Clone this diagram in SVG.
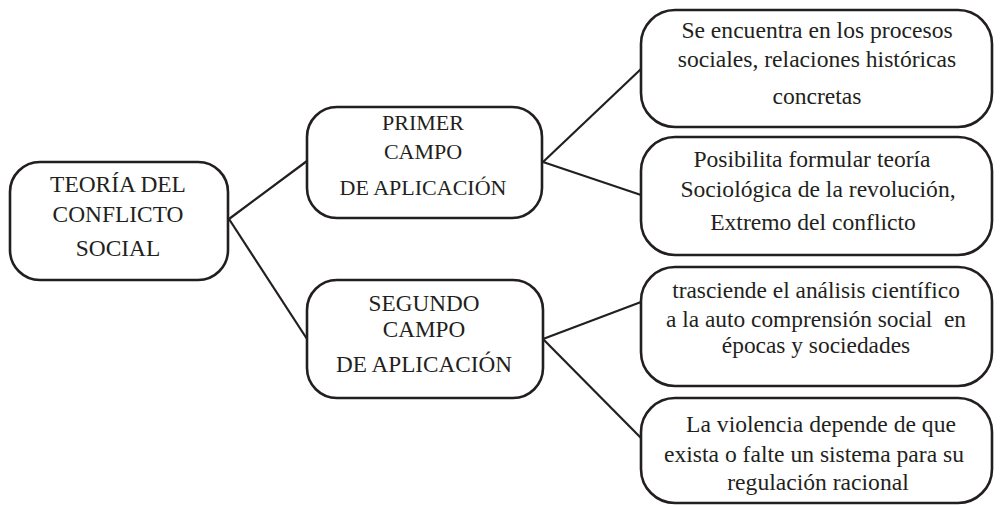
<svg xmlns="http://www.w3.org/2000/svg" width="1000" height="505" viewBox="0 0 1000 505">
<style>
.box{fill:#fff;stroke:#231f20;stroke-width:2.6}
.c{stroke:#231f20;stroke-width:2.2;fill:none}
text{font-family:'Liberation Serif','Times New Roman',Times,serif;fill:#231f20;text-anchor:middle}
</style>
<rect width="1000" height="505" fill="#fff"/>
<g id="connectors">
<line class="c" x1="229" y1="219" x2="307" y2="161"/>
<line class="c" x1="229" y1="219" x2="307" y2="339"/>
<line class="c" x1="543" y1="162" x2="641" y2="69"/>
<line class="c" x1="543" y1="162" x2="641" y2="195"/>
<line class="c" x1="543" y1="339" x2="641" y2="302"/>
<line class="c" x1="543" y1="339" x2="641" y2="438"/>
</g>
<g id="root">
<rect class="box" x="10" y="162" width="218" height="118" rx="30"/>
<text font-family="Liberation Serif" font-size="23.4" x="118" y="192">TEORÍA DEL</text>
<text font-family="Liberation Serif" font-size="23.4" x="118" y="222">CONFLICTO</text>
<text font-family="Liberation Serif" font-size="23.4" x="118" y="256">SOCIAL</text>
</g>
<g id="primer">
<rect class="box" x="307" y="107" width="235" height="111" rx="30"/>
<text font-family="Liberation Serif" font-size="22" x="423" y="130">PRIMER</text>
<text font-family="Liberation Serif" font-size="22" x="423" y="159">CAMPO</text>
<text font-family="Liberation Serif" font-size="22" x="423" y="195">DE APLICACIÓN</text>
</g>
<g id="segundo">
<rect class="box" x="307" y="280" width="236" height="118" rx="30"/>
<text font-family="Liberation Serif" font-size="23.2" x="424" y="311">SEGUNDO</text>
<text font-family="Liberation Serif" font-size="23.2" x="424" y="337">CAMPO</text>
<text font-family="Liberation Serif" font-size="23.2" x="424" y="372">DE APLICACIÓN</text>
</g>
<g id="r1">
<rect class="box" x="641" y="10" width="351" height="117" rx="34"/>
<text font-family="Liberation Serif" font-size="23.6" x="817" y="38">Se encuentra en los procesos</text>
<text font-family="Liberation Serif" font-size="23.6" x="817" y="67">sociales, relaciones históricas</text>
<text font-family="Liberation Serif" font-size="23.6" x="817" y="104">concretas</text>
</g>
<g id="r2">
<rect class="box" x="641" y="137" width="351" height="118" rx="34"/>
<text font-family="Liberation Serif" font-size="23.6" x="812" y="167">Posibilita formular teoría</text>
<text font-family="Liberation Serif" font-size="23.6" x="818" y="197">Sociológica de la revolución,</text>
<text font-family="Liberation Serif" font-size="23.6" x="813" y="230">Extremo del conflicto</text>
</g>
<g id="r3">
<rect class="box" x="641" y="267" width="351" height="119" rx="34"/>
<text font-family="Liberation Serif" font-size="23.4" x="816" y="298">trasciende el análisis científico</text>
<text font-family="Liberation Serif" font-size="23.4" x="816" y="327" xml:space="preserve">a la auto comprensión social  en</text>
<text font-family="Liberation Serif" font-size="23.4" x="816" y="353">épocas y sociedades</text>
</g>
<g id="r4">
<rect class="box" x="641" y="398" width="351" height="105" rx="34"/>
<text font-family="Liberation Serif" font-size="23.6" x="821" y="432">La violencia depende de que</text>
<text font-family="Liberation Serif" font-size="23.6" x="814" y="462">exista o falte un sistema para su</text>
<text font-family="Liberation Serif" font-size="23.6" x="818" y="490">regulación racional</text>
</g>
</svg>
